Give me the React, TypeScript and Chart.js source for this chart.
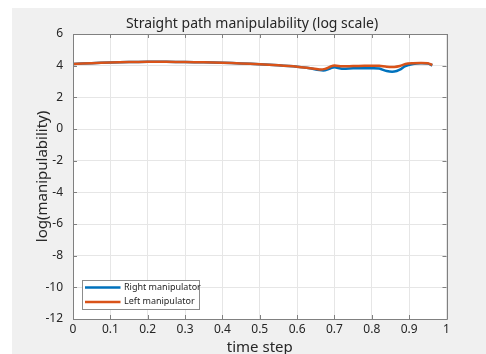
import { useEffect, useRef } from "react";
import { Chart, registerables } from "chart.js";

Chart.register(...registerables);

const titleText = "Straight path manipulability (log scale)";
const xAxisTitle = "time step";
const yAxisTitle = "log(manipulability)";
const seriesNames = ["Right manipulator", "Left manipulator"];

const timeStep = [
  0, 0.05, 0.1, 0.15, 0.2, 0.25, 0.3, 0.35, 0.4, 0.45, 0.5, 0.55, 0.6, 0.63,
  0.66, 0.675, 0.69, 0.7, 0.72, 0.75, 0.78, 0.8, 0.82, 0.84, 0.86, 0.875, 0.89,
  0.91, 0.93, 0.95, 0.962,
];
const rightManipulator = [
  4.1, 4.16, 4.2, 4.23, 4.24, 4.24, 4.23, 4.21, 4.18, 4.14, 4.09, 4.02, 3.93,
  3.85, 3.72, 3.71, 3.84, 3.9, 3.8, 3.83, 3.84, 3.84, 3.82, 3.66, 3.63, 3.75,
  3.98, 4.1, 4.15, 4.13, 4.02,
];
const leftManipulator = [
  4.1, 4.16, 4.2, 4.23, 4.24, 4.24, 4.23, 4.21, 4.18, 4.14, 4.09, 4.02, 3.93,
  3.85, 3.76, 3.8, 3.95, 4.01, 3.96, 3.98, 3.99, 4.0, 3.99, 3.93, 3.92, 3.98,
  4.1, 4.15, 4.17, 4.15, 4.04,
];

const xTicks = [0, 0.1, 0.2, 0.3, 0.4, 0.5, 0.6, 0.7, 0.8, 0.9, 1];
const xTickLabels = ["0", "0.1", "0.2", "0.3", "0.4", "0.5", "0.6", "0.7", "0.8", "0.9", "1"];
const yTicks = [-12, -10, -8, -6, -4, -2, 0, 2, 4, 6];
const yTickLabels = ["-12", "-10", "-8", "-6", "-4", "-2", "0", "2", "4", "6"];

const seriesColors = ["#0072BD", "#D95319"];
const FONT = "'Noto Sans', 'DejaVu Sans', sans-serif";
const TEXT = "#262626";
const GRID = "#e6e6e6";
const BOX = "#808080";

const decorPlugin = {
  id: "decor",
  beforeDraw(chart: any) {
    const { ctx, chartArea } = chart;
    ctx.save();
    ctx.fillStyle = "#ffffff";
    ctx.fillRect(chartArea.left, chartArea.top, chartArea.right - chartArea.left, chartArea.bottom - chartArea.top);
    ctx.restore();
  },
  afterDraw(chart: any) {
    const { ctx, chartArea } = chart;
    const { left, top, right, bottom } = chartArea;
    const xs = chart.scales.x;
    const ys = chart.scales.y;
    ctx.save();
    // box
    ctx.strokeStyle = BOX;
    ctx.lineWidth = 1;
    ctx.beginPath();
    ctx.rect(Math.round(left) + 0.5, Math.round(top) + 0.5, Math.round(right - left), Math.round(bottom - top));
    ctx.stroke();
    // inward ticks
    const tl = 4;
    ctx.beginPath();
    xTicks.forEach((v) => {
      const px = Math.round(xs.getPixelForValue(v)) + 0.5;
      ctx.moveTo(px, bottom);
      ctx.lineTo(px, bottom - tl);
      ctx.moveTo(px, top);
      ctx.lineTo(px, top + tl);
    });
    yTicks.forEach((v) => {
      const py = Math.round(ys.getPixelForValue(v)) + 0.5;
      ctx.moveTo(left, py);
      ctx.lineTo(left + tl, py);
      ctx.moveTo(right, py);
      ctx.lineTo(right - tl, py);
    });
    ctx.stroke();

    // title
    ctx.fillStyle = TEXT;
    ctx.font = `14px ${FONT}`;
    ctx.textAlign = "center";
    ctx.textBaseline = "middle";
    ctx.fillText(titleText, 240, 16);
    // axis titles
    ctx.font = `15px ${FONT}`;
    ctx.fillText(xAxisTitle, (left + right) / 2, 340);
    ctx.save();
    ctx.translate(31, (top + bottom) / 2);
    ctx.rotate(-Math.PI / 2);
    ctx.fillText(yAxisTitle, 0, 0);
    ctx.restore();

    // legend
    const lx = 70.5, ly = 272.5, lw = 117, lh = 29;
    ctx.fillStyle = "#ffffff";
    ctx.fillRect(lx, ly, lw, lh);
    ctx.strokeStyle = "#8c8c8c";
    ctx.lineWidth = 1;
    ctx.strokeRect(lx, ly, lw, lh);
    ctx.font = `9px ${FONT}`;
    ctx.textAlign = "left";
    ctx.textBaseline = "middle";
    seriesNames.forEach((name, i) => {
      const yy = ly + 7 + i * 14.4;
      ctx.strokeStyle = seriesColors[i];
      ctx.lineWidth = 2.5;
      ctx.beginPath();
      ctx.moveTo(lx + 2.5, yy);
      ctx.lineTo(lx + 38, yy);
      ctx.stroke();
      ctx.fillStyle = TEXT;
      ctx.fillText(name, lx + 41.5, yy);
    });
    ctx.restore();
  },
};

export default function App() {
  const ref = useRef<HTMLCanvasElement | null>(null);
  useEffect(() => {
    if (!ref.current) return;
    const chart = new Chart(ref.current, {
      type: "line",
      data: {
        datasets: [
          {
            label: seriesNames[0],
            data: timeStep.map((t, i) => ({ x: t, y: rightManipulator[i] })),
            borderColor: seriesColors[0],
            backgroundColor: seriesColors[0],
            borderWidth: 2.5,
            pointRadius: 0,
            tension: 0.3,
            order: 1,
          },
          {
            label: seriesNames[1],
            data: timeStep.map((t, i) => ({ x: t, y: leftManipulator[i] })),
            borderColor: seriesColors[1],
            backgroundColor: seriesColors[1],
            borderWidth: 2.5,
            pointRadius: 0,
            tension: 0.3,
            order: 0,
          },
        ],
      },
      options: {
        animation: false,
        responsive: false,
        devicePixelRatio: 1,
        layout: { padding: { left: 0, top: 26, right: 39.5, bottom: 0 } },
        plugins: { legend: { display: false }, title: { display: false }, tooltip: { enabled: false } },
        scales: {
          x: {
            type: "linear",
            min: 0,
            max: 1,
            afterBuildTicks: (s: any) => {
              s.ticks = xTicks.map((v) => ({ value: v }));
            },
            afterFit: (s: any) => {
              s.height = 35;
            },
            ticks: {
              callback: (_v: any, i: number) => xTickLabels[i],
              font: { family: FONT, size: 12 },
              color: TEXT,
              padding: 3,
              maxRotation: 0,
              autoSkip: false,
            },
            grid: { color: GRID, drawTicks: false },
            border: { display: false },
          },
          y: {
            type: "linear",
            min: -12,
            max: 6,
            afterBuildTicks: (s: any) => {
              s.ticks = yTicks.map((v) => ({ value: v }));
            },
            afterFit: (s: any) => {
              s.width = 61;
            },
            ticks: {
              callback: (_v: any, i: number) => yTickLabels[i],
              font: { family: FONT, size: 12 },
              color: TEXT,
              padding: 10,
              autoSkip: false,
            },
            grid: { color: GRID, drawTicks: false },
            border: { display: false },
          },
        },
      },
      plugins: [decorPlugin],
    });
    return () => chart.destroy();
  }, []);
  return (
    <div style={{ position: "absolute", left: 12, top: 8, width: 474, height: 346, background: "#f0f0f0" }}>
      <canvas ref={ref} width={474} height={346} style={{ display: "block" }} />
    </div>
  );
}
